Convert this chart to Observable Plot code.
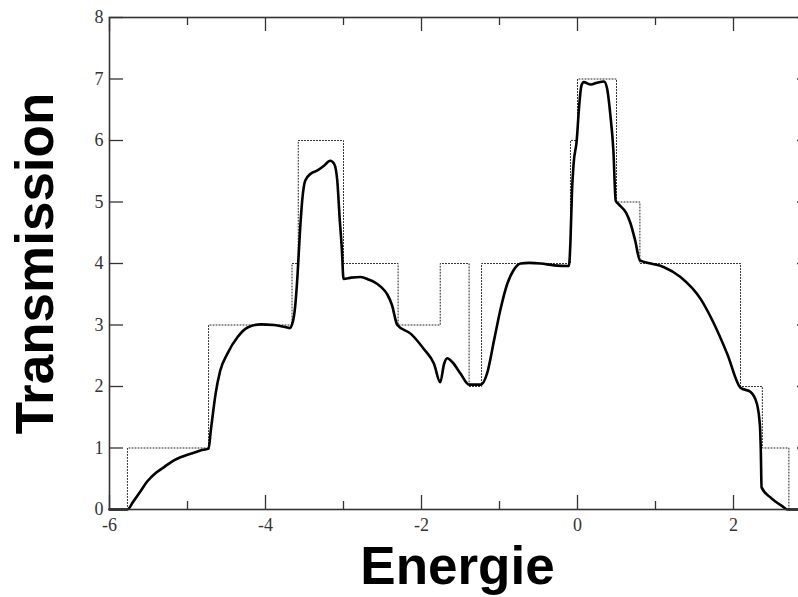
<!DOCTYPE html>
<html>
<head>
<meta charset="utf-8">
<script src="https://cdn.jsdelivr.net/npm/d3@7"></script>
<script src="https://cdn.jsdelivr.net/npm/@observablehq/plot@0.6"></script>
<style>
  html, body { margin: 0; padding: 0; background: #fff; }
  #chart svg { display: block; }
</style>
</head>
<body>
<div id="chart"></div>
<script>
// Step (ideal transmission) – dotted
const stepX = [-6, -5.77, -4.73, -3.66, -3.58, -3.0, -2.30, -1.76, -1.39, -1.23, -0.09, 0.0, 0.50, 0.80, 2.09, 2.37, 2.71, 3.0];
const stepY = [0, 1, 3, 4, 6, 4, 3, 4, 2, 4, 6, 7, 5, 4, 2, 1, 0, 0];

// Computed transmission – solid
const curveX = [-6.00, -5.77, -5.70, -5.60, -5.52, -5.40, -5.30, -5.20, -5.09, -4.98, -4.88, -4.80, -4.73,
  -4.70, -4.68, -4.64, -4.58, -4.49, -4.36, -4.23, -4.06, -3.89, -3.76, -3.69, -3.65, -3.62, -3.59,
  -3.56, -3.53, -3.49, -3.42, -3.34, -3.25, -3.17, -3.12, -3.08, -3.05, -3.02, -3.00, -2.90, -2.78,
  -2.68, -2.61, -2.52, -2.44, -2.38, -2.31, -2.14, -1.97, -1.84, -1.76, -1.71, -1.67, -1.60, -1.50,
  -1.39, -1.24, -1.16, -1.07, -0.99, -0.90, -0.82, -0.73, -0.62, -0.47, -0.30, -0.11, -0.09, -0.07,
  -0.05, -0.01, 0.02, 0.05, 0.08, 0.17, 0.25, 0.34, 0.38, 0.42, 0.46, 0.49, 0.53, 0.62, 0.68, 0.74,
  0.80, 0.94, 1.11, 1.32, 1.58, 1.75, 1.92, 2.09, 2.22, 2.30, 2.34, 2.35, 2.36, 2.47, 2.64, 2.69, 3.00];
const curveY = [0, 0, 0.12, 0.30, 0.45, 0.60, 0.69, 0.78, 0.85, 0.90, 0.94, 0.97, 0.99,
  1.30, 1.50, 1.88, 2.26, 2.53, 2.80, 2.96, 3.01, 3.00, 2.97, 2.95, 3.05, 3.30, 3.80,
  4.48, 5.02, 5.35, 5.46, 5.51, 5.59, 5.67, 5.62, 5.35, 4.75, 4.21, 3.75, 3.77, 3.78,
  3.74, 3.70, 3.62, 3.50, 3.33, 3.00, 2.86, 2.61, 2.37, 2.07, 2.37, 2.46, 2.39, 2.21,
  2.03, 2.03, 2.21, 2.75, 3.24, 3.67, 3.89, 4.00, 4.01, 4.00, 3.97, 3.96, 4.37, 5.19,
  5.62, 6.00, 6.54, 6.89, 6.95, 6.91, 6.94, 6.96, 6.84, 6.43, 5.84, 5.02, 4.96, 4.83, 4.65, 4.37,
  4.05, 4.00, 3.94, 3.78, 3.42, 3.02, 2.53, 1.98, 1.91, 1.72, 1.34, 0.96, 0.36, 0.20, 0.04, 0, 0];

const xMajor = [-6, -4, -2, 0, 2];
const xMinor = [-5, -3, -1, 1];
const yMajor = [0, 1, 2, 3, 4, 5, 6, 7, 8];
const xTitle = "Energie";
const yTitle = "Transmission";

const steps = stepX.map((x, i) => ({x, y: stepY[i]}));
const curve = curveX.map((x, i) => ({x, y: curveY[i]}));

const W = 798, H = 597;
const fLeft = 109, fRight = 811, fTop = 17, fBottom = 509;
const fw = fRight - fLeft, fh = fBottom - fTop;
const ink = "#333";
const serif = "'Liberation Serif', 'DejaVu Serif', serif";
const sans = "'Liberation Sans', Arial, sans-serif";

const chart = Plot.plot({
  width: W,
  height: H,
  marginLeft: fLeft,
  marginTop: fTop,
  marginBottom: H - fBottom,
  marginRight: W - fRight,
  x: {domain: [-6, 3], range: [fLeft, fRight], axis: null},
  y: {domain: [0, 8], range: [fBottom, fTop], axis: null},
  style: {background: "white", overflow: "hidden"},
  marks: [
    Plot.line(steps, {x: "x", y: "y", curve: "step-after", stroke: "#222", strokeWidth: 1, strokeDasharray: "1,2"}),
    Plot.line(curve, {x: "x", y: "y", curve: "monotone-x", stroke: "#000", strokeWidth: 2.6, strokeLinejoin: "round"}),
    Plot.tickX(xMajor, {x: d => d, stroke: ink, strokeWidth: 1.3, insetTop: fh - 14}),
    Plot.tickX(xMinor, {x: d => d, stroke: ink, strokeWidth: 1.3, insetTop: fh - 8}),
    Plot.tickX(xMajor, {x: d => d, stroke: ink, strokeWidth: 1.3, insetBottom: fh - 14}),
    Plot.tickX(xMinor, {x: d => d, stroke: ink, strokeWidth: 1.3, insetBottom: fh - 8}),
    Plot.tickY(yMajor, {y: d => d, stroke: ink, strokeWidth: 1.3, insetRight: fw - 14}),
    Plot.tickY(yMajor, {y: d => d, stroke: ink, strokeWidth: 1.3, insetLeft: fw - 14}),
    Plot.frame({stroke: ink, strokeWidth: 1.6}),
    // tick labels
    Plot.text(xMajor, {x: d => d, frameAnchor: "bottom", text: d => String(d), dy: 16,
      textAnchor: "middle", lineAnchor: "middle", fontSize: 18, fontFamily: serif, fill: "#333"}),
    Plot.text(yMajor, {y: d => d, frameAnchor: "left", text: d => String(d), dx: -6,
      textAnchor: "end", lineAnchor: "middle", fontSize: 18, fontFamily: serif, fill: "#333"}),
    // axis titles
    Plot.text([xTitle], {frameAnchor: "bottom", text: d => d, dx: -3, dy: 58, fontSize: 53,
      textAnchor: "middle", lineAnchor: "middle", fontWeight: "bold", fontFamily: sans, fill: "#000"}),
    Plot.text([yTitle], {frameAnchor: "left", text: d => d, rotate: -90, dx: -73, dy: 0, fontSize: 53,
      textAnchor: "middle", lineAnchor: "middle", fontWeight: "bold", fontFamily: sans, fill: "#000"})
  ]
});

document.getElementById("chart").appendChild(chart);
</script>
</body>
</html>
